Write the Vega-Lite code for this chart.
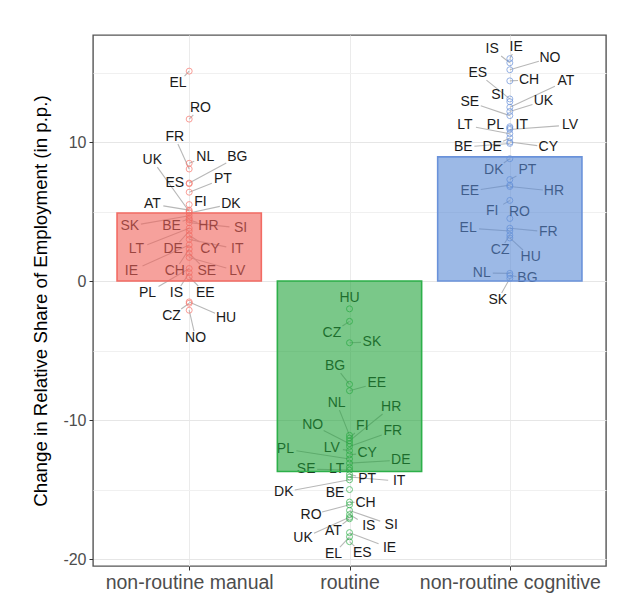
{
  "$schema": "https://vega.github.io/schema/vega-lite/v6.json",
  "width": 513,
  "height": 531,
  "autosize": {"type": "none"},
  "padding": {"left": 93, "top": 35, "right": 16, "bottom": 49},
  "background": "white",
  "config": {
    "font": "Liberation Sans",
    "view": {"stroke": "#555555", "strokeWidth": 1.4},
    "axis": {"domain": false, "tickColor": "#333333", "tickSize": 4, "labelColor": "#4d4d4d", "titleColor": "#000000", "titleFontWeight": "normal", "gridColor": "#ebebeb"}
  },
  "datasets": {
    "pts": [
      {"group": "non-routine manual", "country": "EL", "value": 15.1, "lx": -0.07, "ly": 14.24},
      {"group": "non-routine manual", "country": "RO", "value": 11.65, "lx": 0.07, "ly": 12.45},
      {"group": "non-routine manual", "country": "FR", "value": 8.06, "lx": -0.09, "ly": 10.36},
      {"group": "non-routine manual", "country": "NL", "value": 8.47, "lx": 0.1, "ly": 8.92},
      {"group": "non-routine manual", "country": "BG", "value": 7.05, "lx": 0.3, "ly": 8.92},
      {"group": "non-routine manual", "country": "ES", "value": 7.0, "lx": -0.09, "ly": 7.05},
      {"group": "non-routine manual", "country": "PT", "value": 6.39, "lx": 0.21, "ly": 7.34},
      {"group": "non-routine manual", "country": "UK", "value": 5.0, "lx": -0.23, "ly": 8.7},
      {"group": "non-routine manual", "country": "FI", "value": 5.5, "lx": 0.07, "ly": 5.68},
      {"group": "non-routine manual", "country": "DK", "value": 4.9, "lx": 0.26, "ly": 5.54},
      {"group": "non-routine manual", "country": "AT", "value": 5.1, "lx": -0.23, "ly": 5.54},
      {"group": "non-routine manual", "country": "SK", "value": 4.7, "lx": -0.37, "ly": 3.96},
      {"group": "non-routine manual", "country": "BE", "value": 4.5, "lx": -0.11, "ly": 3.96},
      {"group": "non-routine manual", "country": "HR", "value": 4.4, "lx": 0.12, "ly": 3.96},
      {"group": "non-routine manual", "country": "SI", "value": 4.2, "lx": 0.32, "ly": 3.81},
      {"group": "non-routine manual", "country": "LT", "value": 3.8, "lx": -0.33, "ly": 2.3},
      {"group": "non-routine manual", "country": "DE", "value": 3.6, "lx": -0.1, "ly": 2.3},
      {"group": "non-routine manual", "country": "CY", "value": 3.3, "lx": 0.13, "ly": 2.3},
      {"group": "non-routine manual", "country": "IT", "value": 3.0, "lx": 0.3, "ly": 2.3},
      {"group": "non-routine manual", "country": "IE", "value": 2.6, "lx": -0.36, "ly": 0.72},
      {"group": "non-routine manual", "country": "CH", "value": 2.3, "lx": -0.09, "ly": 0.72},
      {"group": "non-routine manual", "country": "SE", "value": 2.0, "lx": 0.11, "ly": 0.72},
      {"group": "non-routine manual", "country": "LV", "value": 1.7, "lx": 0.3, "ly": 0.72},
      {"group": "non-routine manual", "country": "PL", "value": 0.9, "lx": -0.26, "ly": -0.86},
      {"group": "non-routine manual", "country": "IS", "value": 0.6, "lx": -0.08, "ly": -0.86},
      {"group": "non-routine manual", "country": "EE", "value": 0.3, "lx": 0.1, "ly": -0.86},
      {"group": "non-routine manual", "country": "CZ", "value": -1.6, "lx": -0.11, "ly": -2.52},
      {"group": "non-routine manual", "country": "HU", "value": -1.5, "lx": 0.23, "ly": -2.66},
      {"group": "non-routine manual", "country": "NO", "value": -2.1, "lx": 0.04, "ly": -4.1},
      {"group": "routine", "country": "HU", "value": -2.0, "lx": 0.0, "ly": -1.22},
      {"group": "routine", "country": "CZ", "value": -2.9, "lx": -0.11, "ly": -3.74},
      {"group": "routine", "country": "SK", "value": -4.44, "lx": 0.14, "ly": -4.39},
      {"group": "routine", "country": "BG", "value": -7.43, "lx": -0.09, "ly": -6.12},
      {"group": "routine", "country": "EE", "value": -7.89, "lx": 0.17, "ly": -7.34},
      {"group": "routine", "country": "NL", "value": -11.1, "lx": -0.08, "ly": -8.78},
      {"group": "routine", "country": "HR", "value": -11.5, "lx": 0.26, "ly": -9.06},
      {"group": "routine", "country": "NO", "value": -11.7, "lx": -0.23, "ly": -10.36},
      {"group": "routine", "country": "FI", "value": -11.3, "lx": 0.08, "ly": -10.43},
      {"group": "routine", "country": "FR", "value": -11.9, "lx": 0.27, "ly": -10.79},
      {"group": "routine", "country": "PL", "value": -12.8, "lx": -0.4, "ly": -12.09},
      {"group": "routine", "country": "LV", "value": -12.2, "lx": -0.11, "ly": -12.01},
      {"group": "routine", "country": "CY", "value": -12.5, "lx": 0.11, "ly": -12.37},
      {"group": "routine", "country": "DE", "value": -13.1, "lx": 0.32, "ly": -12.88},
      {"group": "routine", "country": "SE", "value": -13.6, "lx": -0.27, "ly": -13.53},
      {"group": "routine", "country": "LT", "value": -13.4, "lx": -0.08, "ly": -13.53},
      {"group": "routine", "country": "PT", "value": -13.9, "lx": 0.11, "ly": -14.24},
      {"group": "routine", "country": "IT", "value": -14.1, "lx": 0.31, "ly": -14.39},
      {"group": "routine", "country": "DK", "value": -14.3, "lx": -0.41, "ly": -15.18},
      {"group": "routine", "country": "BE", "value": -15.0, "lx": -0.09, "ly": -15.25},
      {"group": "routine", "country": "CH", "value": -15.9, "lx": 0.1, "ly": -15.97},
      {"group": "routine", "country": "RO", "value": -16.1, "lx": -0.24, "ly": -16.83},
      {"group": "routine", "country": "SI", "value": -16.5, "lx": 0.26, "ly": -17.55},
      {"group": "routine", "country": "IS", "value": -16.8, "lx": 0.12, "ly": -17.63},
      {"group": "routine", "country": "AT", "value": -17.1, "lx": -0.1, "ly": -17.99},
      {"group": "routine", "country": "UK", "value": -17.0, "lx": -0.29, "ly": -18.49},
      {"group": "routine", "country": "IE", "value": -18.1, "lx": 0.25, "ly": -19.21},
      {"group": "routine", "country": "EL", "value": -18.4, "lx": -0.1, "ly": -19.64},
      {"group": "routine", "country": "ES", "value": -18.75, "lx": 0.08, "ly": -19.57},
      {"group": "non-routine cognitive", "country": "IE", "value": 16.0, "lx": 0.04, "ly": 16.83},
      {"group": "non-routine cognitive", "country": "IS", "value": 15.7, "lx": -0.11, "ly": 16.69},
      {"group": "non-routine cognitive", "country": "NO", "value": 15.2, "lx": 0.25, "ly": 16.04},
      {"group": "non-routine cognitive", "country": "CH", "value": 14.4, "lx": 0.12, "ly": 14.46},
      {"group": "non-routine cognitive", "country": "ES", "value": 13.1, "lx": -0.2, "ly": 14.96},
      {"group": "non-routine cognitive", "country": "SI", "value": 12.9, "lx": -0.075, "ly": 13.38},
      {"group": "non-routine cognitive", "country": "AT", "value": 12.5, "lx": 0.35, "ly": 14.39},
      {"group": "non-routine cognitive", "country": "UK", "value": 12.2, "lx": 0.21, "ly": 12.95},
      {"group": "non-routine cognitive", "country": "SE", "value": 11.9, "lx": -0.25, "ly": 12.88},
      {"group": "non-routine cognitive", "country": "IT", "value": 11.0, "lx": 0.075, "ly": 11.22},
      {"group": "non-routine cognitive", "country": "LT", "value": 10.6, "lx": -0.28, "ly": 11.22},
      {"group": "non-routine cognitive", "country": "PL", "value": 11.1, "lx": -0.09, "ly": 11.22},
      {"group": "non-routine cognitive", "country": "LV", "value": 10.9, "lx": 0.375, "ly": 11.22},
      {"group": "non-routine cognitive", "country": "DE", "value": 10.3, "lx": -0.11, "ly": 9.64},
      {"group": "non-routine cognitive", "country": "BE", "value": 9.9, "lx": -0.29, "ly": 9.64},
      {"group": "non-routine cognitive", "country": "CY", "value": 10.0, "lx": 0.24, "ly": 9.64},
      {"group": "non-routine cognitive", "country": "DK", "value": 8.8, "lx": -0.1, "ly": 7.99},
      {"group": "non-routine cognitive", "country": "PT", "value": 7.3, "lx": 0.11, "ly": 7.99},
      {"group": "non-routine cognitive", "country": "EE", "value": 6.9, "lx": -0.25, "ly": 6.47},
      {"group": "non-routine cognitive", "country": "HR", "value": 6.8, "lx": 0.275, "ly": 6.47},
      {"group": "non-routine cognitive", "country": "FI", "value": 5.8, "lx": -0.11, "ly": 5.04},
      {"group": "non-routine cognitive", "country": "RO", "value": 4.5, "lx": 0.06, "ly": 4.96},
      {"group": "non-routine cognitive", "country": "EL", "value": 3.6, "lx": -0.26, "ly": 3.81},
      {"group": "non-routine cognitive", "country": "FR", "value": 3.8, "lx": 0.24, "ly": 3.53},
      {"group": "non-routine cognitive", "country": "CZ", "value": 3.3, "lx": -0.06, "ly": 2.23},
      {"group": "non-routine cognitive", "country": "HU", "value": 3.1, "lx": 0.13, "ly": 1.73},
      {"group": "non-routine cognitive", "country": "NL", "value": 0.55, "lx": -0.175, "ly": 0.58},
      {"group": "non-routine cognitive", "country": "BG", "value": 0.4, "lx": 0.11, "ly": 0.22},
      {"group": "non-routine cognitive", "country": "SK", "value": 0.19, "lx": -0.075, "ly": -1.37}
    ],
    "bars": [
      {"group": "non-routine manual", "value": 4.9},
      {"group": "routine", "value": -13.7},
      {"group": "non-routine cognitive", "value": 8.93}
    ]
  },
  "layer": [
    {
      "data": {"name": "pts"},
      "transform": [
        {"calculate": "indexof(['non-routine manual','routine','non-routine cognitive'], datum.group) + 1", "as": "idx"}
      ],
      "mark": {"type": "point", "opacity": 0},
      "encoding": {
        "x": {"field": "idx", "type": "quantitative", "title": null,
          "scale": {"domain": [0.4, 3.6], "nice": false, "zero": false},
          "axis": {"values": [1, 2, 3], "labelExpr": "datum.value == 1 ? 'non-routine manual' : datum.value == 2 ? 'routine' : 'non-routine cognitive'", "labelFontSize": 19.5, "labelPadding": 3, "labelLimit": 400, "labelOverlap": false, "labelBound": false, "gridColor": "#ebebeb", "gridWidth": 1}},
        "y": {"field": "value", "type": "quantitative", "title": "Change in Relative Share of Employment (in p.p.)",
          "scale": {"domain": [-20.5, 17.7], "nice": false, "zero": false},
          "axis": {"values": [-20, -15, -10, -5, 0, 5, 10, 15], "labelExpr": "datum.value % 10 == 0 ? '' + datum.value : ''",
            "tickOpacity": {"condition": {"test": "datum.value % 10 == 0", "value": 1}, "value": 0},
            "gridColor": {"condition": {"test": "datum.value % 10 == 0", "value": "#e6e6e6"}, "value": "#f0f0f0"},
            "labelFontSize": 16, "labelPadding": 3, "titleFontSize": 18.7, "titlePadding": 12}}
      }
    },
    {
      "mark": {"type": "rule", "color": "#222222", "strokeWidth": 2},
      "encoding": {"y": {"datum": 0, "type": "quantitative"}}
    },
    {
      "data": {"name": "pts"},
      "transform": [
        {"calculate": "indexof(['non-routine manual','routine','non-routine cognitive'], datum.group) + 1", "as": "idx"},
        {"calculate": "datum.lx * 160.3", "as": "dxp"},
        {"calculate": "(datum.ly - datum.value) * 13.9", "as": "dyp"},
        {"calculate": "min(abs(datum.dxp) > 0.01 ? 11 / abs(datum.dxp) : 99, abs(datum.dyp) > 0.01 ? 7 / abs(datum.dyp) : 99)", "as": "t"},
        {"calculate": "sqrt(datum.dxp * datum.dxp + datum.dyp * datum.dyp) * (1 - datum.t)", "as": "seglen"},
        {"filter": "datum.seglen > 4"},
        {"calculate": "datum.idx + datum.lx * (1 - datum.t)", "as": "ex"},
        {"calculate": "datum.ly - datum.t * (datum.ly - datum.value)", "as": "ey"}
      ],
      "mark": {"type": "rule", "color": "#b8b8b8", "strokeWidth": 1.1},
      "encoding": {
        "x": {"field": "idx", "type": "quantitative", "title": null},
        "x2": {"field": "ex"},
        "y": {"field": "value", "type": "quantitative", "title": "Change in Relative Share of Employment (in p.p.)"},
        "y2": {"field": "ey"}
      }
    },
    {
      "data": {"name": "pts"},
      "transform": [
        {"calculate": "indexof(['non-routine manual','routine','non-routine cognitive'], datum.group) + 1", "as": "idx"}
      ],
      "mark": {"type": "point", "shape": "circle", "filled": false, "size": 36, "strokeWidth": 1},
      "encoding": {
        "x": {"field": "idx", "type": "quantitative", "title": null},
        "y": {"field": "value", "type": "quantitative", "title": "Change in Relative Share of Employment (in p.p.)"},
        "color": {"field": "group", "type": "nominal", "legend": null,
          "scale": {"domain": ["non-routine manual", "routine", "non-routine cognitive"], "range": ["#F8766D", "#2DAE48", "#6A92DA"]}}
      }
    },
    {
      "data": {"name": "pts"},
      "transform": [
        {"calculate": "indexof(['non-routine manual','routine','non-routine cognitive'], datum.group) + 1", "as": "idx"},
        {"calculate": "datum.idx + datum.lx", "as": "tx"}
      ],
      "mark": {"type": "text", "fontSize": 14, "color": "#1a1a1a", "baseline": "middle", "align": "center"},
      "encoding": {
        "x": {"field": "tx", "type": "quantitative", "title": null},
        "y": {"field": "ly", "type": "quantitative", "title": "Change in Relative Share of Employment (in p.p.)"},
        "text": {"field": "country"}
      }
    },
    {
      "data": {"name": "bars"},
      "transform": [
        {"calculate": "indexof(['non-routine manual','routine','non-routine cognitive'], datum.group) + 1", "as": "idx"},
        {"calculate": "datum.idx - 0.45", "as": "x0"},
        {"calculate": "datum.idx + 0.45", "as": "x1"}
      ],
      "mark": {"type": "rect", "fillOpacity": 0.6, "strokeWidth": 1.6},
      "encoding": {
        "x": {"field": "x0", "type": "quantitative", "title": null},
        "x2": {"field": "x1"},
        "y": {"field": "value", "type": "quantitative", "title": "Change in Relative Share of Employment (in p.p.)"},
        "y2": {"datum": 0},
        "fill": {"field": "group", "type": "nominal", "legend": null,
          "scale": {"domain": ["non-routine manual", "routine", "non-routine cognitive"], "range": ["#F0625A", "#22A33A", "#5A8AD6"]}},
        "stroke": {"field": "group", "type": "nominal", "legend": null,
          "scale": {"domain": ["non-routine manual", "routine", "non-routine cognitive"], "range": ["#F26B63", "#2DB04A", "#6A92DA"]}}
      }
    }
  ],
  "resolve": {"scale": {"color": "independent", "fill": "independent", "stroke": "independent"}}
}
